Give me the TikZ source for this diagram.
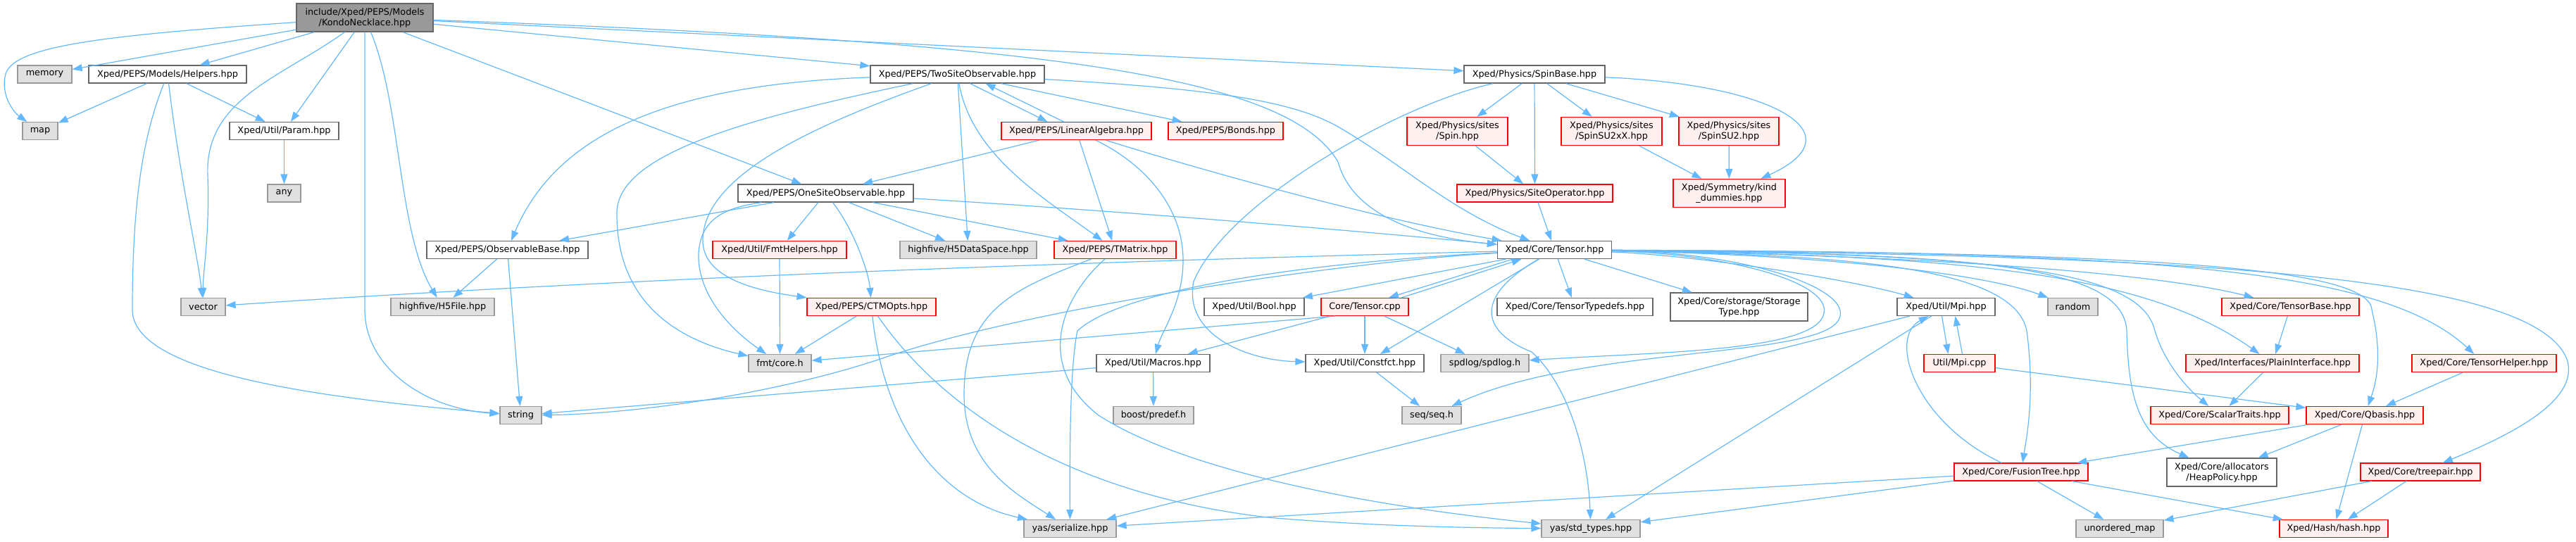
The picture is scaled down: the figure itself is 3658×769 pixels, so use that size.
\documentclass[tikz,border=0pt]{standalone}
\usepackage{fontspec}
\newfontfamily\dvs{DejaVu Sans}
\usetikzlibrary{arrows.meta}
\definecolor{edgec}{HTML}{63B8FF}
\definecolor{nbord}{HTML}{666666}
\definecolor{xbord}{HTML}{999999}
\definecolor{xfill}{HTML}{E0E0E0}
\definecolor{rfill}{HTML}{FFF0F0}
\definecolor{mfill}{HTML}{999999}
\definecolor{rbord}{HTML}{FF0000}
\begin{document}
\begin{tikzpicture}[x=1pt,y=-1pt,
 nd/.style={draw, line width=1.2pt, minimum height=25pt, inner sep=0pt, align=center, font=\dvs\fontsize{12.8pt}{15pt}\selectfont},
 nrm/.style={nd, draw=nbord, fill=white},
 ext/.style={nd, draw=xbord, fill=xfill},
 trn/.style={nd, draw=rbord, fill=rfill},
 mainn/.style={nd, draw=nbord, fill=mfill},
 twol/.style={minimum height=40pt},
 dep/.style={draw=edgec, line width=1.2pt, -{Triangle[length=14pt,width=10pt]}}
]
\useasboundingbox (0,0) rectangle (3658,769);
% row 1
\node[mainn, twol, minimum width=194pt] (main) at (518,25) {include/Xped/PEPS/Models\\/KondoNecklace.hpp};
% row 2
\node[ext, minimum width=77pt] (memory) at (63.5,105.5) {memory};
\node[nrm, minimum width=224pt] (helpers) at (238,105.5) {Xped/PEPS/Models/Helpers.hpp};
\node[nrm, minimum width=247pt] (twosite) at (1359.5,105.5) {Xped/PEPS/TwoSiteObservable.hpp};
\node[nrm, minimum width=200pt] (spinbase) at (2179,105.5) {Xped/Physics/SpinBase.hpp};
% row 3
\node[ext, minimum width=50pt] (map) at (57,186) {map};
\node[nrm, minimum width=155pt] (param) at (403.5,186) {Xped/Util/Param.hpp};
\node[trn, minimum width=213pt] (linalg) at (1528.5,186) {Xped/PEPS/LinearAlgebra.hpp};
\node[trn, minimum width=163pt] (bonds) at (1740.5,186) {Xped/PEPS/Bonds.hpp};
\node[trn, twol, minimum width=143pt] (spin) at (2069.5,186.5) {Xped/Physics/sites\\/Spin.hpp};
\node[trn, twol, minimum width=143pt] (spinsu2xx) at (2288.5,186.5) {Xped/Physics/sites\\/SpinSU2xX.hpp};
\node[trn, twol, minimum width=142pt] (spinsu2) at (2455,186.5) {Xped/Physics/sites\\/SpinSU2.hpp};
% row 4
\node[ext, minimum width=47pt] (any) at (403.5,274.5) {any};
\node[nrm, minimum width=249pt] (onesite) at (1172.5,274.5) {Xped/PEPS/OneSiteObservable.hpp};
\node[trn, minimum width=221pt] (siteop) at (2179.5,274.5) {Xped/Physics/SiteOperator.hpp};
\node[trn, twol, minimum width=159pt] (kind) at (2455.5,274.5) {Xped/Symmetry/kind\\\_dummies.hpp};
% row 5
\node[nrm, minimum width=229pt] (obsbase) at (720.5,355) {Xped/PEPS/ObservableBase.hpp};
\node[trn, minimum width=190pt] (fmthelpers) at (1107,355) {Xped/Util/FmtHelpers.hpp};
\node[ext, minimum width=194pt] (h5dataspace) at (1375,355) {highfive/H5DataSpace.hpp};
\node[trn, minimum width=173pt] (tmatrix) at (1583.5,355) {Xped/PEPS/TMatrix.hpp};
\node[nrm, minimum width=162pt] (tensor) at (2207.5,355) {Xped/Core/Tensor.hpp};
% row 6
\node[ext, minimum width=63pt] (vector) at (288.5,436) {vector};
\node[ext, minimum width=147pt] (h5file) at (628.5,436) {highfive/H5File.hpp};
\node[trn, minimum width=183pt] (ctmopts) at (1237.5,436) {Xped/PEPS/CTMOpts.hpp};
\node[nrm, minimum width=142pt] (bool) at (1781,436) {Xped/Util/Bool.hpp};
\node[trn, minimum width=124pt] (tensorcpp) at (1938,436) {Core/Tensor.cpp};
\node[nrm, minimum width=221pt] (typedefs) at (2236.5,436) {Xped/Core/TensorTypedefs.hpp};
\node[nrm, twol, minimum width=195pt] (storage) at (2469.5,436) {Xped/Core/storage/Storage\\Type.hpp};
\node[nrm, minimum width=139pt] (mpihpp) at (2763.5,436) {Xped/Util/Mpi.hpp};
\node[ext, minimum width=71pt] (random) at (2943.5,436) {random};
\node[trn, minimum width=195pt] (tensorbase) at (3252.5,436) {Xped/Core/TensorBase.hpp};
% row 7
\node[ext, minimum width=89pt] (fmtcore) at (1107.5,516) {fmt/core.h};
\node[nrm, minimum width=161pt] (macros) at (1637.5,516) {Xped/Util/Macros.hpp};
\node[nrm, minimum width=168pt] (constfct) at (1938,516) {Xped/Util/Constfct.hpp};
\node[ext, minimum width=125pt] (spdlog) at (2108.5,516) {spdlog/spdlog.h};
\node[trn, minimum width=101pt] (mpicpp) at (2782.5,516) {Util/Mpi.cpp};
\node[trn, minimum width=246pt] (plain) at (3227,516) {Xped/Interfaces/PlainInterface.hpp};
\node[trn, minimum width=205pt] (tensorhelper) at (3527.5,516) {Xped/Core/TensorHelper.hpp};
% row 8
\node[ext, minimum width=59pt] (string) at (739.5,590) {string};
\node[ext, minimum width=114pt] (boost) at (1638,590) {boost/predef.h};
\node[ext, minimum width=84pt] (seq) at (2033,590) {seq/seq.h};
\node[trn, minimum width=196pt] (scalartraits) at (3152,590) {Xped/Core/ScalarTraits.hpp};
\node[trn, minimum width=166pt] (qbasis) at (3358,590) {Xped/Core/Qbasis.hpp};
% row 9
\node[trn, minimum width=190pt] (fusiontree) at (2870,670.5) {Xped/Core/FusionTree.hpp};
\node[nrm, twol, minimum width=156pt] (heappolicy) at (3155,671) {Xped/Core/allocators\\/HeapPolicy.hpp};
\node[trn, minimum width=170pt] (treepair) at (3437,670.5) {Xped/Core/treepair.hpp};
% row 10
\node[ext, minimum width=131pt] (yasser) at (1519.5,751) {yas/serialize.hpp};
\node[ext, minimum width=140pt] (yasstd) at (2259,751) {yas/std\_types.hpp};
\node[ext, minimum width=124pt] (unordered) at (3010,751) {unordered\_map};
\node[trn, minimum width=154pt] (hash) at (3314,751) {Xped/Hash/hash.hpp};

% ---- edges from main
\draw[dep] (main) -- (memory);
\draw[dep] (main) .. controls (150,50) and (20,65) .. (8,105) .. controls (0,135) and (20,160) .. (map);
\draw[dep] (main) -- (helpers);
\draw[dep] (main) .. controls (400,110) and (290,140) .. (295,250) .. controls (298,330) and (288,390) .. (vector);
\draw[dep] (main) -- (param);
\draw[dep] (main) -- (518,440) .. controls (518,520) and (600,580) .. (string);
\draw[dep] (main) .. controls (570,150) and (565,330) .. (h5file);
\draw[dep] (main) -- (onesite);
\draw[dep] (main) -- (twosite);
\draw[dep] (main) -- (spinbase);
\draw[dep] (main) .. controls (1500,60) and (1830,110) .. (1900,230) .. controls (1925,320) and (2050,340) .. (tensor);
% helpers, param
\draw[dep] (helpers) -- (map);
\draw[dep] (helpers) -- (param);
\draw[dep] (helpers) .. controls (200,200) and (188,300) .. (188,440) .. controls (188,530) and (450,565) .. (string);
\draw[dep] (helpers) .. controls (255,250) and (282,370) .. (vector);
\draw[dep] (param) -- (any);
% observable base
\draw[dep] (obsbase) -- (h5file);
\draw[dep] (obsbase) -- (string);
% two site
\draw[dep] (twosite) .. controls (950,120) and (790,190) .. (obsbase);
\draw[dep] (twosite) .. controls (1050,170) and (880,220) .. (876,300) .. controls (874,420) and (950,480) .. (fmtcore);
\draw[dep] (twosite) .. controls (1150,180) and (1000,250) .. (998,340) .. controls (996,400) and (1090,415) .. (ctmopts);
\draw[dep] (twosite) -- (h5dataspace);
\draw[dep] (twosite) .. controls (1380,220) and (1480,280) .. (tmatrix);
\draw[dep] ([xshift=18pt]twosite.south) -- ([xshift=-41pt]linalg.north);
\draw[dep] ([xshift=-18pt]linalg.north) -- ([xshift=40pt]twosite.south);
\draw[dep] (twosite) -- (bonds);
\draw[dep] (twosite) .. controls (1700,125) and (1830,140) .. (1900,180) .. controls (1990,232) and (2060,300) .. (tensor);
% linear algebra
\draw[dep] (linalg) -- (onesite);
\draw[dep] (linalg) -- (tmatrix);
\draw[dep] (linalg) .. controls (1620,230) and (1680,290) .. (1680,370) .. controls (1680,430) and (1650,470) .. (macros);
\draw[dep] (linalg) .. controls (1700,240) and (1950,310) .. (tensor);
% one site
\draw[dep] (onesite) -- (obsbase);
\draw[dep] (onesite) .. controls (1030,295) and (995,310) .. (992,360) .. controls (990,420) and (1040,470) .. (fmtcore);
\draw[dep] (onesite) -- (fmthelpers);
\draw[dep] (onesite) .. controls (1215,330) and (1234,390) .. (ctmopts);
\draw[dep] (onesite) -- (h5dataspace);
\draw[dep] (onesite) -- (tmatrix);
\draw[dep] (onesite) .. controls (1600,300) and (1950,330) .. (tensor);
\draw[dep] (fmthelpers) -- (fmtcore);
% tmatrix, ctmopts, macros
\draw[dep] (tmatrix) .. controls (1440,410) and (1369,440) .. (1369,560) .. controls (1369,660) and (1440,700) .. (yasser);
\draw[dep] (tmatrix) .. controls (1505,425) and (1470,520) .. (1560,590) .. controls (1700,680) and (2000,725) .. (yasstd);
\draw[dep] (ctmopts) -- (fmtcore);
\draw[dep] (ctmopts) .. controls (1255,600) and (1330,710) .. (yasser);
\draw[dep] (ctmopts) .. controls (1330,570) and (1500,700) .. (1800,735) .. controls (1950,748) and (2100,750) .. (yasstd);
\draw[dep] (macros) -- (boost);
\draw[dep] (macros) -- (string);
% tensor.cpp
\draw[dep] ([xshift=-42pt]tensorcpp.south) -- (fmtcore);
\draw[dep] (tensorcpp) -- (macros);
\draw[dep] (tensorcpp) -- (constfct);
\draw[dep] (tensorcpp) -- (spdlog);
\draw[dep] ([xshift=-59pt]tensor.south) -- ([xshift=34pt]tensorcpp.north);
\draw[dep] ([xshift=52pt]tensorcpp.north) -- ([xshift=-47pt]tensor.south);
% tensor
\draw[dep] (tensor) .. controls (1700,368) and (1000,388) .. (vector);
\draw[dep] (tensor) .. controls (1900,372) and (1450,440) .. (1250,510) .. controls (1100,560) and (900,588) .. (string);
\draw[dep] (tensor) .. controls (1900,370) and (1600,405) .. (1530,470) .. controls (1519,520) and (1519,650) .. (yasser);
\draw[dep] (tensor) -- (bool);
\draw[dep] (tensor) -- (constfct);
\draw[dep] (tensor) .. controls (2095,420) and (2100,470) .. (2175,500) .. controls (2230,550) and (2255,650) .. (yasstd);
\draw[dep] (tensor) -- (typedefs);
\draw[dep] (tensor) -- (storage);
\draw[dep] (tensor) .. controls (2450,360) and (2600,400) .. (2590,445) .. controls (2580,500) and (2350,500) .. (spdlog);
\draw[dep] (tensor) .. controls (2480,358) and (2630,410) .. (2612,452) .. controls (2590,510) and (2250,490) .. (seq);
\draw[dep] (tensor) .. controls (2400,362) and (2620,395) .. (mpihpp);
\draw[dep] (tensor) .. controls (2600,362) and (2820,390) .. (random);
\draw[dep] (tensor) .. controls (2700,362) and (3050,385) .. (tensorbase);
\draw[dep] (tensor) .. controls (2600,362) and (2860,375) .. (2878,470) .. controls (2890,560) and (2878,620) .. (fusiontree);
\draw[dep] (tensor) .. controls (2800,360) and (3015,375) .. (3020,470) .. controls (3022,570) and (3040,620) .. (heappolicy);
\draw[dep] (tensor) .. controls (2850,360) and (3040,385) .. (3060,470) .. controls (3075,520) and (3110,555) .. (scalartraits);
\draw[dep] (tensor) .. controls (2800,362) and (3050,390) .. (plain);
\draw[dep] (tensor) .. controls (3050,358) and (3365,380) .. (3368,440) .. controls (3385,510) and (3372,550) .. (qbasis);
\draw[dep] (tensor) .. controls (3050,358) and (3380,380) .. (tensorhelper);
\draw[dep] (tensor) .. controls (3200,362) and (3600,400) .. (3645,510) .. controls (3665,570) and (3560,620) .. (treepair);
% mpi
\draw[dep] ([xshift=-6pt]mpihpp.south) -- ([xshift=-16pt]mpicpp.north);
\draw[dep] ([xshift=4pt]mpicpp.north) -- ([xshift=13pt]mpihpp.south);
\draw[dep] (mpihpp) -- (yasstd);
\draw[dep] (mpihpp) -- (yasser);
\draw[dep] (mpicpp) -- (qbasis);
% core helpers
\draw[dep] (tensorbase) -- (plain);
\draw[dep] (plain) -- (scalartraits);
\draw[dep] (tensorhelper) -- (qbasis);
\draw[dep] (qbasis) -- (fusiontree);
\draw[dep] (qbasis) -- (heappolicy);
\draw[dep] (qbasis) -- (hash);
\draw[dep] (fusiontree) .. controls (2720,600) and (2680,480) .. (mpihpp);
\draw[dep] (fusiontree) -- (unordered);
\draw[dep] (fusiontree) -- (hash);
\draw[dep] (fusiontree) -- (yasser);
\draw[dep] (fusiontree) -- (yasstd);
\draw[dep] (treepair) -- (unordered);
\draw[dep] (treepair) -- (hash);
\draw[dep] (constfct) -- (seq);
% physics
\draw[dep] (spinbase) -- (spin);
\draw[dep] (spinbase) -- (siteop);
\draw[dep] (spinbase) -- (spinsu2xx);
\draw[dep] (spinbase) -- (spinsu2);
\draw[dep] (spinbase) .. controls (2520,120) and (2640,190) .. (kind);
\draw[dep] (spinbase) .. controls (1980,150) and (1740,290) .. (1695,400) .. controls (1680,475) and (1770,512) .. (constfct);
\draw[dep] (spin) -- (siteop);
\draw[dep] (spinsu2xx) -- (kind);
\draw[dep] (spinsu2) -- (kind);
\draw[dep] (siteop) -- (tensor);
\end{tikzpicture}
\end{document}
